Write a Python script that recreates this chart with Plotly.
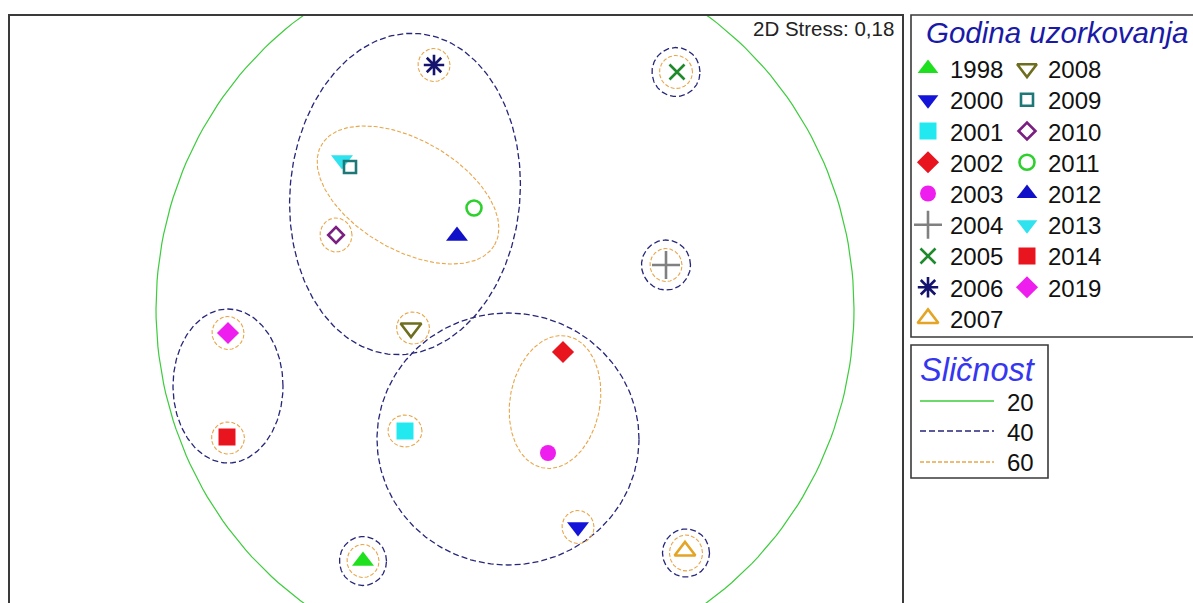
import numpy as np
import plotly.graph_objects as go

OFF = 0
W, H = 1193, 603

# ---- MDS ordination ----
years = ["1998", "2000", "2001", "2002", "2003", "2004", "2005", "2006", "2007",
         "2008", "2009", "2010", "2011", "2012", "2013", "2014", "2019"]
mds_x = [-0.93, 1.22, -0.51, 1.07, 0.92, 2.10, 2.21, -0.22, 2.29,
         -0.45, -1.06, -1.20, 0.18, 0.01, -1.14, -2.29, -2.28]
mds_y = [-2.52, -2.18, -1.22, -0.43, -1.44, 0.44, 2.37, 2.44, -2.42,
         -0.19, 1.42, 0.74, 1.01, 0.73, 1.49, -1.28, -0.24]
symbols = ["triangle-up", "triangle-down", "square", "diamond", "circle",
           "cross-thin-open", "x-thin-open", "asterisk-open", "triangle-up-open",
           "triangle-down-open", "square-open", "diamond-open", "circle-open",
           "triangle-up", "triangle-down", "square", "diamond"]
colors = ["#1ee01e", "#1414d8", "#22e8f0", "#e8141e", "#ee1eee", "#808080",
          "#1f8a2a", "#14146e", "#e4a424", "#6e6e1e", "#1e7878", "#7a1e82",
          "#2ed02e", "#1010c8", "#2ee2ee", "#e8141e", "#ee1eee"]
sizes = [19, 19, 17, 17, 16, 20, 15, 17, 18, 18, 12, 12, 15, 19, 19, 17, 17]
leg_sizes = [18, 18, 17, 17, 16, 20, 15, 17, 18, 17, 12, 13, 15, 18, 18, 17, 17]

# ---- similarity contours (level, centre x, centre y, radius x, radius y, tilt deg) ----
sim_levels = ["20", "40", "60"]
sim_colors = ["#3ccc3c", "#26267a", "#e8a64a"]
sim_dash = ["solid", "6px,3px", "4px,2px"]
sim_width = [1.2, 1.3, 1.1]

c_level = ["20",
           "40", "40", "40", "40", "40", "40", "40",
           "60", "60", "60", "60", "60", "60", "60", "60", "60", "60", "60", "60", "60"]
c_cx = [0.49,
        -0.51, 0.52, -2.28, -0.93, 2.30, 2.20, 2.10,
        -0.48, 0.99, -0.93, 1.22, -0.51, 2.10, 2.20, -0.22, 2.30, -0.43, -1.20, -2.28, -2.28]
c_cy = [0.00,
        1.15, -1.30, -0.77, -2.52, -2.44, 2.37, 0.44,
        1.14, -0.93, -2.52, -2.18, -1.22, 0.44, 2.37, 2.44, -2.44, -0.19, 0.74, -1.29, -0.24]
c_rx = [3.49,
        1.15, 1.31, 0.55, 0.235, 0.235, 0.24, 0.245,
        1.00, 0.45, 0.16, 0.16, 0.17, 0.16, 0.165, 0.16, 0.165, 0.165, 0.16, 0.165, 0.16]
c_ry = [3.60,
        1.61, 1.26, 0.77, 0.245, 0.24, 0.245, 0.25,
        0.55, 0.67, 0.165, 0.165, 0.16, 0.165, 0.165, 0.165, 0.18, 0.16, 0.17, 0.16, 0.165]
c_tilt = [0,
          -5, 0, 0, 0, 0, 0, 0,
          -30, -10, 0, 0, 0, 0, 0, 0, 0, 0, 0, 0, 0]

stress_text = "2D Stress: 0,18"
legend_title = "Godina uzorkovanja"
sim_title = "Sličnost"


def px(x):
    """window x pixel -> paper fraction"""
    return (x - OFF) / W


def py(y):
    """window y pixel -> paper fraction"""
    return 1 - (y - OFF) / H


fig = go.Figure()

# contours
t = np.linspace(0, 2 * np.pi, 241)
for lv, cx, cy, rx, ry, tl in zip(c_level, c_cx, c_cy, c_rx, c_ry, c_tilt):
    k = sim_levels.index(lv)
    a = np.radians(tl)
    ex = cx + rx * np.cos(t) * np.cos(a) - ry * np.sin(t) * np.sin(a)
    ey = cy + rx * np.cos(t) * np.sin(a) + ry * np.sin(t) * np.cos(a)
    fig.add_trace(go.Scatter(x=ex, y=ey, mode="lines", hoverinfo="skip", showlegend=False,
                             line=dict(color=sim_colors[k], width=sim_width[k], dash=sim_dash[k]),
                             xaxis="x", yaxis="y"))

# points (drawn in reverse so 2009 sits over 2013)
for i in reversed(range(len(years))):
    fig.add_trace(go.Scatter(
        x=[mds_x[i]], y=[mds_y[i]], mode="markers", name=years[i], showlegend=False,
        marker=dict(symbol=symbols[i], size=sizes[i], color=colors[i],
                    line=dict(color=colors[i], width=2.6 if "open" in symbols[i] else 0)),
        xaxis="x", yaxis="y"))

# ---- custom legend drawn on a pixel axis ----
col1, col2 = years[:9], years[9:]
row_y = [68.5 + 31.25 * r for r in range(9)]
annotations = []
for col, mx, tx in ((col1, 928, 948), (col2, 1027, 1046)):
    for r, yr in enumerate(col):
        i = years.index(yr)
        fig.add_trace(go.Scatter(x=[mx], y=[row_y[r]], mode="markers", showlegend=False,
                                 hoverinfo="skip", cliponaxis=False,
                                 marker=dict(symbol=symbols[i], size=leg_sizes[i], color=colors[i],
                                             line=dict(color=colors[i],
                                                       width=2.6 if "open" in symbols[i] else 0)),
                                 xaxis="x2", yaxis="y2"))
        annotations.append(dict(x=px(tx), y=py(row_y[r] + 1), xref="paper", yref="paper",
                                text=yr, showarrow=False, xanchor="left", yanchor="middle",
                                font=dict(size=24, color="#111111", family="Liberation Sans, Arial")))

sim_row_y = [401, 431, 462]
for k, lv in enumerate(sim_levels):
    fig.add_trace(go.Scatter(x=[920, 994], y=[sim_row_y[k], sim_row_y[k]], mode="lines",
                             showlegend=False, hoverinfo="skip",
                             line=dict(color=sim_colors[k], width=sim_width[k] + 0.3, dash=sim_dash[k]),
                             xaxis="x2", yaxis="y2"))
    annotations.append(dict(x=px(1036), y=py(sim_row_y[k] + 1), xref="paper", yref="paper",
                            text=lv, showarrow=False, xanchor="right", yanchor="middle",
                            font=dict(size=24, color="#111111", family="Liberation Sans, Arial")))

annotations.append(dict(x=px(924), y=py(33), xref="paper", yref="paper",
                        text="<i>" + legend_title + "</i>", showarrow=False,
                        xanchor="left", yanchor="middle",
                        font=dict(size=29.5, color="#1a1aa8", family="Liberation Sans, Arial")))
annotations.append(dict(x=px(918), y=py(370), xref="paper", yref="paper",
                        text="<i>" + sim_title + "</i>", showarrow=False,
                        xanchor="left", yanchor="middle",
                        font=dict(size=32.5, color="#3636f0", family="Liberation Sans, Arial")))
annotations.append(dict(x=px(896), y=py(28), xref="paper", yref="paper",
                        text=stress_text, showarrow=False, xanchor="right", yanchor="middle",
                        font=dict(size=20.5, color="#222222", family="Liberation Sans, Arial")))

shapes = [
    dict(type="path", xref="paper", yref="paper",
         path=f"M {px(9)} {py(610)} L {px(9)} {py(15)} L {px(903)} {py(15)} L {px(903)} {py(610)}",
         line=dict(color="#3a3a3a", width=2)),
    dict(type="rect", xref="paper", yref="paper", x0=px(911), y0=py(337), x1=px(1200), y1=py(15),
         line=dict(color="#3a3a3a", width=1.6)),
    dict(type="rect", xref="paper", yref="paper", x0=px(911), y0=py(478), x1=px(1048), y1=py(345),
         line=dict(color="#3a3a3a", width=1.6)),
]

fig.update_layout(
    width=W, height=H,
    margin=dict(l=0, r=0, t=0, b=0),
    paper_bgcolor="white", plot_bgcolor="rgba(0,0,0,0)",
    xaxis=dict(domain=[px(9), px(903)], range=[-4.47, 4.47], visible=False, fixedrange=True),
    yaxis=dict(domain=[0, py(15)], range=[-2.94, 2.94], visible=False, fixedrange=True),
    xaxis2=dict(domain=[px(911), 1], range=[911, 1193], visible=False, anchor="y2", fixedrange=True),
    yaxis2=dict(domain=[0, 1], range=[603, OFF], visible=False, anchor="x2", fixedrange=True),
    annotations=annotations, shapes=shapes, showlegend=False,
)

fig.write_html("out.html", config={"displayModeBar": False},
               post_script="document.body.style.margin='0';document.body.style.overflow='hidden';")
